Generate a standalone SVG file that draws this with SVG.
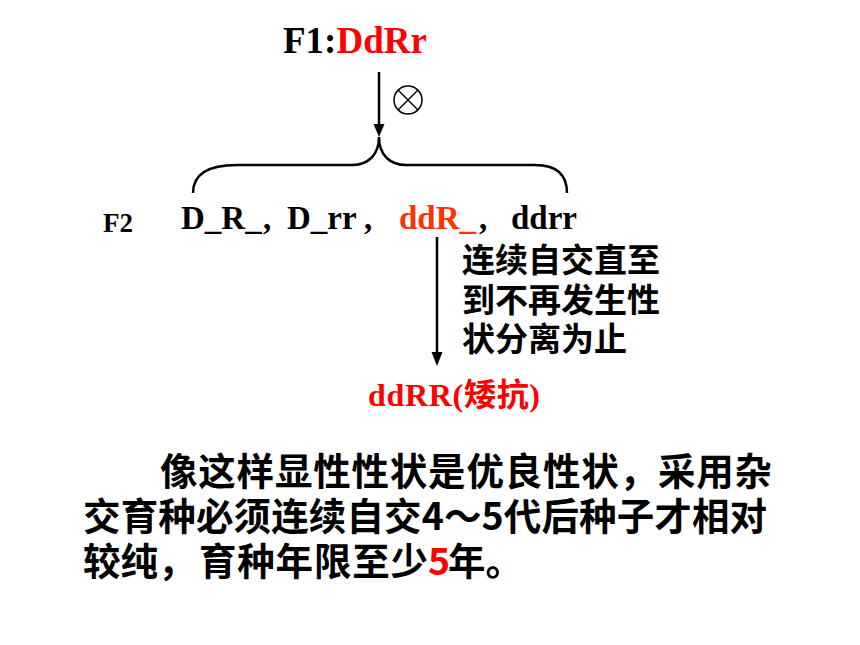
<svg xmlns="http://www.w3.org/2000/svg" width="860" height="645" viewBox="0 0 860 645">
<style>
.lat{font-family:"Liberation Serif","Times New Roman","Noto Sans CJK SC",serif;font-weight:bold;}
.cjk{font-family:"Noto Sans CJK SC","Noto Sans CJK TC",sans-serif;font-weight:bold;fill:#000;}
.red{fill:#FF0000;}
.org{fill:#FF3300;}
.ln{stroke:#000;stroke-width:2.5;fill:none;}
.head{fill:#000;stroke:none;}
</style>
<rect width="860" height="645" fill="#fff"/>
<g id="f1">
<text class="lat" x="283" y="53" font-size="37">F1:<tspan class="red">DdRr</tspan></text>
</g>
<g id="selfing">
<circle cx="408" cy="100" r="14" fill="none" stroke="#000" stroke-width="1.5"/>
<line x1="398" y1="90" x2="418" y2="110" stroke="#000" stroke-width="1.5"/>
<line x1="418" y1="90" x2="398" y2="110" stroke="#000" stroke-width="1.5"/>
</g>
<g id="connectors">
<line class="ln" x1="379" y1="72" x2="379" y2="126"/>
<polygon class="head" points="373.5,124 384.5,124 379,137"/>
<path class="ln" d="M193,193 C193,176 205,165 237,165 L352,165 C368,165 379,155 379,137 C379,155 390,165 406,165 L535,165 C558,165 567,176 567,193"/>
<line class="ln" x1="437" y1="237" x2="437" y2="354"/>
<polygon class="head" points="431.5,352 442.5,352 437,366"/>
</g>
<g id="f2">
<text class="lat" x="103" y="232" font-size="27">F2</text>
<text class="lat" x="181" y="229" font-size="33">D_R_</text>
<text class="lat" x="263" y="229" font-size="33">,</text>
<text class="lat" x="287" y="229" font-size="33">D_rr</text>
<text class="lat" x="364" y="229" font-size="33">,</text>
<text class="lat org" x="399" y="229" font-size="33">ddR_</text>
<text class="lat" x="479" y="229" font-size="33">,</text>
<text class="lat" x="511" y="229" font-size="33">ddrr</text>
</g>
<g id="note">
<text class="cjk" x="462" y="272" font-size="33">连续自交直至</text>
<text class="cjk" x="462" y="312" font-size="33">到不再发生性</text>
<text class="cjk" x="462" y="351" font-size="33">状分离为止</text>
</g>
<g id="result">
<text class="lat red" x="368" y="406" font-size="32" textLength="172">ddRR(矮抗)</text>
</g>
<g id="paragraph">
<text class="cjk" x="160" y="485" font-size="37.5" textLength="612">像这样显性性状是优良性状，采用杂</text>
<text class="cjk" x="83" y="530" font-size="37.5" textLength="684">交育种必须连续自交4～5代后种子才相对</text>
<text class="cjk" x="83" y="575" font-size="37.5">较纯，</text>
<text class="cjk" x="199" y="575" font-size="37.5" textLength="229">育种年限至少</text>
<text class="cjk red" x="428" y="575" font-size="37.5">5</text>
<text class="cjk" x="448" y="575" font-size="37.5">年。</text>
</g>
</svg>
